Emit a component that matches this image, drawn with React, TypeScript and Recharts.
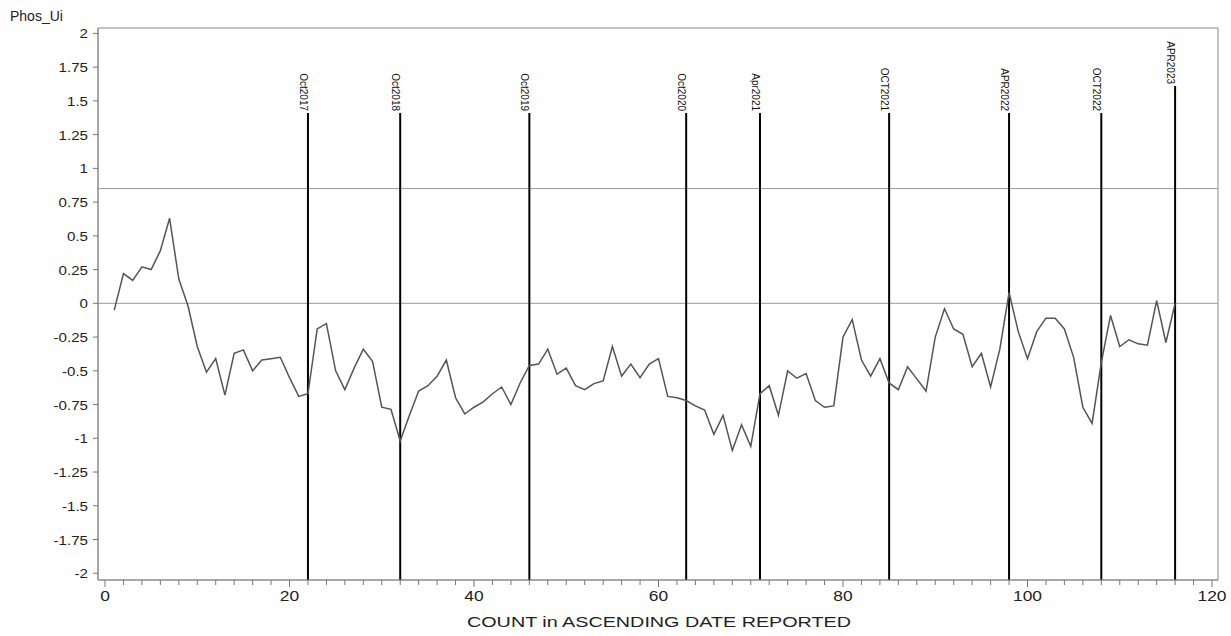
import React from 'react';
import { LineChart, Line, XAxis, YAxis, ReferenceLine, ReferenceArea } from 'recharts';

const counts = [
  1, 2, 3, 4, 5, 6, 7, 8, 9, 10, 11, 12, 13, 14, 15, 16, 17, 18, 19, 20,
  21, 22, 23, 24, 25, 26, 27, 28, 29, 30, 31, 32, 33, 34, 35, 36, 37, 38, 39, 40,
  41, 42, 43, 44, 45, 46, 47, 48, 49, 50, 51, 52, 53, 54, 55, 56, 57, 58, 59, 60,
  61, 62, 63, 64, 65, 66, 67, 68, 69, 70, 71, 72, 73, 74, 75, 76, 77, 78, 79, 80,
  81, 82, 83, 84, 85, 86, 87, 88, 89, 90, 91, 92, 93, 94, 95, 96, 97, 98, 99, 100,
  101, 102, 103, 104, 105, 106, 107, 108, 109, 110, 111, 112, 113, 114, 115, 116,
];

const phosUi = [
  -0.05, 0.22, 0.17, 0.27, 0.25, 0.39, 0.63, 0.18, -0.02, -0.32,
  -0.51, -0.41, -0.68, -0.37, -0.345, -0.5, -0.42, -0.41, -0.4, -0.55,
  -0.69, -0.67, -0.19, -0.15, -0.5, -0.64, -0.48, -0.34, -0.43, -0.77,
  -0.785, -1.02, -0.83, -0.65, -0.61, -0.54, -0.42, -0.7, -0.82, -0.77,
  -0.73, -0.67, -0.62, -0.75, -0.59, -0.46, -0.45, -0.34, -0.525, -0.48,
  -0.61, -0.64, -0.595, -0.575, -0.32, -0.54, -0.45, -0.55, -0.45, -0.41,
  -0.69, -0.7, -0.72, -0.76, -0.79, -0.97, -0.83, -1.09, -0.9, -1.06,
  -0.67, -0.61, -0.83, -0.5, -0.555, -0.52, -0.72, -0.77, -0.76, -0.25,
  -0.12, -0.42, -0.54, -0.41, -0.59, -0.64, -0.47, -0.56, -0.65, -0.25,
  -0.04, -0.19, -0.23, -0.47, -0.37, -0.62, -0.34, 0.08, -0.21, -0.41,
  -0.21, -0.11, -0.11, -0.19, -0.4, -0.77, -0.89, -0.44, -0.09, -0.32,
  -0.27, -0.3, -0.31, 0.02, -0.29, 0.0,
];

const markerCounts = [22, 32, 46, 63, 71, 85, 98, 108, 116];
const markerLabels = ['Oct2017', 'Oct2018', 'Oct2019', 'Oct2020', 'Apr2021', 'OCT2021', 'APR2022', 'OCT2022', 'APR2023'];
const markerTops = [1.41, 1.41, 1.41, 1.41, 1.41, 1.41, 1.41, 1.41, 1.61];

const horizontalRefs = [0, 0.85];

const yTicks = [-2, -1.75, -1.5, -1.25, -1, -0.75, -0.5, -0.25, 0, 0.25, 0.5, 0.75, 1, 1.25, 1.5, 1.75, 2];
const xTicks = [
  0, 2, 4, 6, 8, 10, 12, 14, 16, 18, 20, 22, 24, 26, 28, 30, 32, 34, 36, 38, 40,
  42, 44, 46, 48, 50, 52, 54, 56, 58, 60, 62, 64, 66, 68, 70, 72, 74, 76, 78, 80,
  82, 84, 86, 88, 90, 92, 94, 96, 98, 100, 102, 104, 106, 108, 110, 112, 114, 116, 118, 120,
];
const xLabelTicks = [0, 20, 40, 60, 80, 100, 120];

const xTitle = 'COUNT in ASCENDING DATE REPORTED';
const yTitle = 'Phos_Ui';

const X_DOMAIN: [number, number] = [-0.76, 120.65];
const Y_DOMAIN: [number, number] = [-2.05, 2.04];

const data = counts.map((c, i) => ({ count: c, v: phosUi[i] }));

const FONT = '"Liberation Sans", Arial, sans-serif';

const XTick = (props: any) => {
  const { x, y, payload } = props;
  const major = xLabelTicks.includes(payload.value);
  return (
    <g>
      <line x1={x} x2={x} y1={y} y2={y + (major ? 7 : 5)} stroke="#777" strokeWidth={1} />
      {major && (
        <text
          x={0}
          y={0}
          transform={`translate(${x}, ${y + 21}) scale(1.2, 1)`}
          textAnchor="middle"
          fontSize={14.5}
          fontFamily={FONT}
          fill="#222"
        >
          {payload.value}
        </text>
      )}
    </g>
  );
};

const YTick = (props: any) => {
  const { x, y, payload } = props;
  return (
    <text
      x={0}
      y={0}
      transform={`translate(${x}, ${y + 5}) scale(1.12, 1)`}
      textAnchor="end"
      fontSize={13.5}
      fontFamily={FONT}
      fill="#222"
    >
      {payload.value}
    </text>
  );
};

const XTitle = (props: any) => {
  const { viewBox } = props;
  if (!viewBox) return null;
  const cx = viewBox.x + viewBox.width / 2 + 1;
  return (
    <text
      x={cx}
      y={viewBox.y + 47}
      textAnchor="middle"
      fontSize={15}
      fontFamily={FONT}
      fill="#222"
      textLength={384}
      lengthAdjust="spacingAndGlyphs"
    >
      {xTitle}
    </text>
  );
};

const MarkerLabel = (props: any) => {
  const { viewBox, text } = props;
  if (!viewBox) return null;
  const x = viewBox.x;
  const y = viewBox.y;
  return (
    <text
      x={0}
      y={0}
      transform={`translate(${x - 8}, ${y - 2}) rotate(90)`}
      textAnchor="end"
      fontSize={10}
      fontFamily={FONT}
      fill="#111"
    >
      {text}
    </text>
  );
};

export default function App() {
  return (
    <div style={{ position: 'absolute', left: 0, top: 0, width: 1231, height: 636, background: '#fff' }}>
      <div
        style={{
          position: 'absolute',
          left: 10,
          top: 8,
          fontFamily: FONT,
          fontSize: 14,
          color: '#222',
          lineHeight: '16px',
        }}
      >
        {yTitle}
      </div>
      <LineChart
        width={1231}
        height={636}
        data={data}
        margin={{ top: 28, right: 13, bottom: 0, left: 0 }}
      >
        <ReferenceArea
          x1={X_DOMAIN[0]}
          x2={X_DOMAIN[1]}
          y1={Y_DOMAIN[0]}
          y2={Y_DOMAIN[1]}
          fill="none"
          fillOpacity={0}
          stroke="#8a8a8a"
          strokeWidth={1}
          ifOverflow="visible"
        />
        <XAxis
          dataKey="count"
          type="number"
          domain={X_DOMAIN}
          ticks={xTicks}
          allowDataOverflow
          interval={0}
          height={56}
          tickLine={false}
          tickSize={0}
          tickMargin={0}
          axisLine={{ stroke: '#8a8a8a' }}
          tick={<XTick />}
          label={<XTitle />}
        />
        <YAxis
          type="number"
          domain={Y_DOMAIN}
          ticks={yTicks}
          allowDataOverflow
          interval={0}
          width={98}
          tickSize={5}
          tickMargin={5}
          tickLine={{ stroke: '#777' }}
          axisLine={{ stroke: '#8a8a8a' }}
          tick={<YTick />}
        />
        {horizontalRefs.map((h) => (
          <ReferenceLine key={`h${h}`} y={h} stroke="#9a9a9a" strokeWidth={1} />
        ))}
        {markerCounts.map((m, i) => (
          <ReferenceLine
            key={`m${m}`}
            segment={[
              { x: m, y: Y_DOMAIN[0] },
              { x: m, y: markerTops[i] },
            ]}
            stroke="#000"
            strokeWidth={2}
            label={<MarkerLabel text={markerLabels[i]} />}
          />
        ))}
        <Line
          type="linear"
          dataKey="v"
          stroke="#555"
          strokeWidth={1.5}
          dot={false}
          isAnimationActive={false}
        />
      </LineChart>
    </div>
  );
}
